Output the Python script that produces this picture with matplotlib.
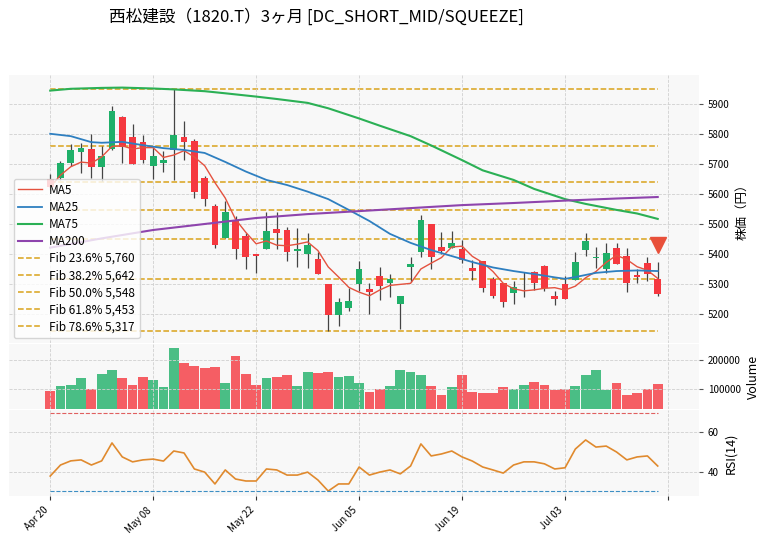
import matplotlib
matplotlib.use('Agg')
import numpy as np
import pandas as pd
import matplotlib.pyplot as plt
from matplotlib.ticker import MultipleLocator, FixedLocator
# ------------------------------ #

plt.rcParams['font.family'] = ['Noto Sans CJK JP', 'DejaVu Sans']

title = '西松建設（1820.T）3ヶ月 [DC_SHORT_MID/SQUEEZE]'
tickLabels = ['Apr 20', 'May 08', 'May 22', 'Jun 05', 'Jun 19', 'Jul 03', '']

opens = [5651, 5654, 5704, 5741, 5751, 5691, 5751, 5858, 5791, 5774,
         5694, 5704, 5748, 5791, 5778, 5654, 5561, 5454, 5514, 5461,
         5401, 5418, 5484, 5481, 5411, 5401, 5384, 5301, 5198, 5221,
         5301, 5284, 5328, 5304, 5234, 5358, 5408, 5501, 5424, 5421,
         5418, 5354, 5378, 5318, 5304, 5271, 5306, 5341, 5361, 5261,
         5301, 5314, 5414, 5389, 5351, 5421, 5394, 5331, 5371, 5318]
highs = [5668, 5711, 5768, 5771, 5801, 5761, 5894, 5861, 5834, 5798,
         5758, 5744, 5950, 5844, 5784, 5661, 5568, 5578, 5528, 5471,
         5401, 5541, 5541, 5491, 5488, 5471, 5408, 5301, 5254, 5288,
         5378, 5304, 5358, 5334, 5261, 5391, 5531, 5501, 5474, 5478,
         5448, 5381, 5378, 5324, 5304, 5311, 5341, 5344, 5364, 5278,
         5328, 5408, 5471, 5424, 5438, 5438, 5421, 5351, 5391, 5374]
lows = [5614, 5648, 5694, 5671, 5654, 5644, 5748, 5704, 5701, 5704,
        5651, 5674, 5648, 5714, 5588, 5561, 5421, 5454, 5384, 5351,
        5338, 5418, 5418, 5378, 5358, 5354, 5334, 5145, 5161, 5211,
        5278, 5201, 5248, 5258, 5151, 5308, 5391, 5351, 5401, 5421,
        5371, 5314, 5274, 5254, 5224, 5234, 5258, 5281, 5278, 5231,
        5251, 5314, 5394, 5354, 5338, 5368, 5274, 5304, 5311, 5261]
closes = [5624, 5704, 5748, 5754, 5691, 5728, 5878, 5758, 5701, 5714,
          5728, 5714, 5798, 5774, 5608, 5584, 5431, 5541, 5418, 5391,
          5394, 5478, 5471, 5408, 5418, 5431, 5334, 5198, 5241, 5244,
          5351, 5274, 5294, 5318, 5261, 5368, 5514, 5391, 5411, 5438,
          5381, 5344, 5288, 5261, 5241, 5291, 5309, 5304, 5288, 5251,
          5251, 5374, 5444, 5392, 5404, 5368, 5304, 5324, 5334, 5268]
volumes = [94000, 109000, 112000, 138000, 101000, 152000, 167000, 138000, 112000, 141000,
           130000, 105000, 243000, 192000, 181000, 174000, 178000, 120000, 214000, 152000,
           112000, 138000, 141000, 150000, 110000, 160000, 155000, 158000, 140000, 145000,
           120000, 90000, 100000, 110000, 165000, 160000, 150000, 110000, 80000, 105000,
           150000, 90000, 85000, 85000, 105000, 100000, 115000, 125000, 115000, 95000,
           100000, 110000, 150000, 165000, 95000, 120000, 80000, 85000, 100000, 118000]
rsi = [37.8, 43.4, 45.5, 46.0, 43.4, 45.5, 54.6, 47.5, 45.0, 46.0,
       46.4, 45.4, 50.5, 49.5, 41.4, 39.8, 33.8, 40.9, 36.3, 35.3,
       35.3, 41.4, 40.9, 38.3, 38.3, 39.8, 35.8, 30.2, 33.8, 33.8,
       42.4, 38.3, 39.8, 40.9, 38.9, 42.9, 54.1, 48.0, 49.0, 50.5,
       47.5, 45.4, 42.4, 40.9, 39.3, 43.4, 45.0, 45.0, 44.0, 41.4,
       42.0, 51.5, 56.1, 52.5, 53.0, 50.0, 46.0, 47.5, 48.0, 42.9]

ma25Idx = [0, 2, 4, 5, 7, 9, 11, 13, 15, 17, 19, 21, 23, 25, 27, 29, 31, 33, 35, 37,
           39, 41, 43, 45, 47, 49, 50, 51, 53, 55, 57, 59]
ma25 = [5802, 5794, 5774, 5772, 5775, 5764, 5754, 5748, 5738, 5708, 5676, 5648, 5631, 5609,
        5584, 5548, 5511, 5468, 5438, 5414, 5394, 5374, 5356, 5344, 5334, 5323, 5318, 5324,
        5338, 5344, 5346, 5344]
ma75Idx = [0, 2, 5, 7, 10, 12, 15, 17, 20, 22, 25, 27, 30, 32, 35, 37, 40, 42, 45, 47,
           50, 52, 55, 57, 59]
ma75 = [5946, 5952, 5955, 5956, 5953, 5950, 5944, 5937, 5926, 5918, 5905, 5887, 5853, 5829,
        5794, 5763, 5714, 5680, 5648, 5618, 5584, 5568, 5548, 5536, 5518]
ma200Idx = [0, 5, 10, 15, 20, 25, 30, 35, 40, 45, 50, 55, 59]
ma200 = [5422, 5453, 5481, 5501, 5521, 5534, 5544, 5554, 5564, 5571, 5579, 5586, 5591]

fibHigh, fibLow = 5950, 5145
fibRatios = [0.236, 0.382, 0.5, 0.618, 0.786]
signalIdx, signalPrice = 59, 5431
# ------------------------------ #

upColor = '#1fb069'
downColor = '#f5383f'
bgColor = '#f8f8f8'
gridKw = dict(color = '#d0d0d0', linestyle = '--', linewidth = 0.6)

def styleAxis(ax):
	ax.set_facecolor(bgColor)
	for s in ax.spines.values():
		s.set_visible(False)
	ax.yaxis.tick_right()
	ax.yaxis.set_label_position('right')
	ax.tick_params(axis = 'y', labelsize = 7, length = 3, color = '#555555')
	ax.tick_params(axis = 'x', length = 3, color = '#333333')
	ax.grid(True, **gridKw)
	ax.set_xlim(-4, 63)
	ax.xaxis.set_major_locator(FixedLocator(range(0, 61, 10)))
# ------------------------------ #

fig = plt.figure(figsize = (7.64, 5.4), dpi = 100)
axMain = fig.add_axes([0.0118, 0.3648, 0.903, 0.4963])
axVol = fig.add_axes([0.0118, 0.2426, 0.903, 0.1204])
axRsi = fig.add_axes([0.0118, 0.0815, 0.903, 0.1593])

x = np.arange(len(closes))
o, h, l, c = map(np.array, (opens, highs, lows, closes))
isUp = c >= o
colors = np.where(isUp, upColor, downColor)

# candles
axMain.vlines(x, l, h, color = '#444444', linewidth = 0.9, zorder = 2)
bodyLow = np.minimum(o, c)
bodyH = np.maximum(np.abs(c - o), 2)
axMain.bar(x, bodyH, bottom = bodyLow, width = 0.65, color = colors, zorder = 3)

# moving averages
ma5 = pd.Series(closes).rolling(5, min_periods = 1).mean()
axMain.plot(x, ma5, color = '#e4523f', linewidth = 1.0, label = 'MA5', zorder = 4)
axMain.plot(ma25Idx, ma25, color = '#2e7fc0', linewidth = 1.3, label = 'MA25', zorder = 4)
axMain.plot(ma75Idx, ma75, color = '#2bb055', linewidth = 1.5, label = 'MA75', zorder = 4)
axMain.plot(ma200Idx, ma200, color = '#8e44ad', linewidth = 1.5, label = 'MA200', zorder = 4)

# fibonacci levels
fibColor = '#d9a21b'
span = fibHigh - fibLow
axMain.hlines([fibHigh, fibLow], 0, len(closes) - 1, colors = fibColor, linestyles = '--', linewidth = 1.1, zorder = 1)
for r in fibRatios:
	level = fibHigh - span * r
	axMain.hlines(level, 0, len(closes) - 1, colors = fibColor, linestyles = '--', linewidth = 1.1,
		label = f'Fib {r * 100:.1f}% {level:,.0f}', zorder = 1)

axMain.plot([signalIdx], [signalPrice], marker = 'v', color = '#e8503a', markersize = 11, linestyle = 'none', zorder = 5)

styleAxis(axMain)
axMain.set_ylim(5104, 5998)
axMain.yaxis.set_major_locator(MultipleLocator(100))
axMain.set_ylabel('株価（円）', fontsize = 9)
axMain.tick_params(axis = 'x', labelbottom = False, length = 0)
axMain.legend(loc = 'lower left', fontsize = 8.5, frameon = True, facecolor = 'white', framealpha = 0.8,
	edgecolor = '#cccccc', borderaxespad = 0.4, labelspacing = 0.35, handletextpad = 0.6)

# volume
axVol.bar(x, volumes, width = 0.95, color = colors, alpha = 0.8)
styleAxis(axVol)
axVol.set_ylim(29000, 258000)
axVol.yaxis.set_major_locator(FixedLocator([100000, 200000]))
axVol.ticklabel_format(axis = 'y', style = 'plain')
axVol.set_ylabel('Volume', fontsize = 9)
axVol.tick_params(axis = 'x', labelbottom = False, length = 0)

# rsi
axRsi.plot(x, rsi, color = '#e08a2e', linewidth = 1.2)
axRsi.hlines(70, 0, len(closes) - 1, colors = '#e06060', linestyles = '--', linewidth = 0.8)
axRsi.hlines(30, 0, len(closes) - 1, colors = '#3d8fc4', linestyles = '--', linewidth = 0.8)
styleAxis(axRsi)
axRsi.set_ylim(27.7, 71.3)
axRsi.yaxis.set_major_locator(FixedLocator([40, 60]))
axRsi.set_ylabel('RSI(14)', fontsize = 9)
axRsi.set_xticklabels(tickLabels, rotation = 45, ha = 'right', fontsize = 7)

fig.text(109 / 764, 1 - 17 / 540, title, fontsize = 12, ha = 'left', va = 'center')

fig.savefig('out.png', dpi = 100)
